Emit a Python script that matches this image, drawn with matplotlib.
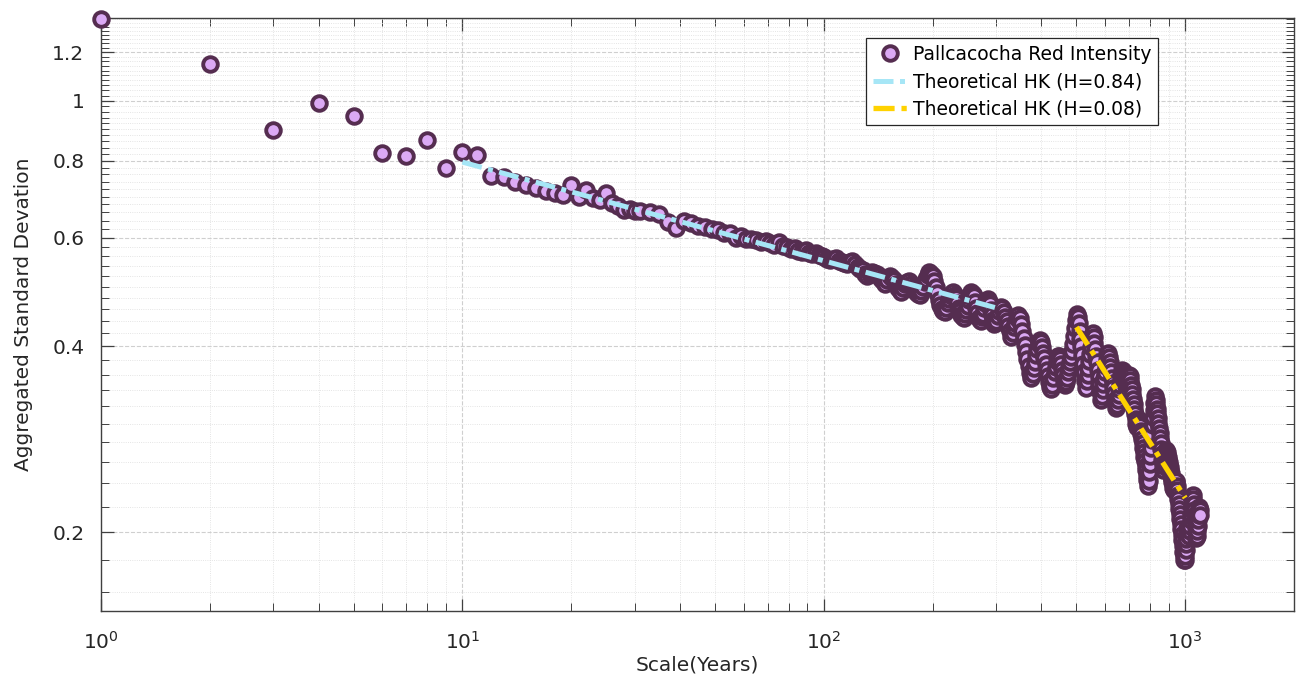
import numpy as np
import matplotlib.pyplot as plt
from matplotlib.ticker import FixedLocator, NullFormatter, LogLocator

plt.rcParams['font.family'] = ['DejaVu Sans']
plt.rcParams['mathtext.default'] = 'regular'

# aggregated standard deviation of the Pallcacocha red intensity record
# scales 1..30 years, one by one
scale_a = list(range(1, 31))
sd_a = [1.36, 1.148, 0.898, 0.991, 0.944, 0.823, 0.813, 0.864, 0.780, 0.826,
        0.817, 0.755, 0.754, 0.738, 0.730, 0.722, 0.714, 0.708, 0.703, 0.730,
        0.700, 0.716, 0.697, 0.690, 0.708, 0.684, 0.676, 0.666, 0.668, 0.664]

# scales 31..99, every 2 years
scale_b = list(range(31, 100, 2))
sd_b = [0.663, 0.660, 0.655, 0.637, 0.622, 0.640, 0.633, 0.627, 0.625, 0.620,
        0.618, 0.612, 0.610, 0.600, 0.604, 0.598, 0.597, 0.596, 0.590, 0.593,
        0.588, 0.585, 0.590, 0.582, 0.579, 0.575, 0.578, 0.572, 0.570, 0.573,
        0.568, 0.565, 0.568, 0.562, 0.560]

# scales 100..298, every 2 years
scale_c = list(range(100, 300, 2))
sd_c = [0.558, 0.554, 0.552, 0.555, 0.556, 0.551, 0.548, 0.546, 0.545, 0.548,
        0.550, 0.544, 0.538, 0.535, 0.532, 0.525, 0.520, 0.524, 0.528, 0.527,
        0.525, 0.520, 0.515, 0.510, 0.505, 0.512, 0.520, 0.516, 0.512, 0.505,
        0.498, 0.494, 0.490, 0.497, 0.505, 0.508, 0.510, 0.505, 0.500, 0.495,
        0.490, 0.487, 0.485, 0.492, 0.500, 0.508, 0.515, 0.522, 0.528, 0.525,
        0.520, 0.510, 0.500, 0.488, 0.475, 0.467, 0.460, 0.457, 0.455, 0.462,
        0.470, 0.478, 0.485, 0.488, 0.490, 0.485, 0.480, 0.471, 0.462, 0.456,
        0.450, 0.447, 0.445, 0.451, 0.458, 0.466, 0.475, 0.483, 0.490, 0.486,
        0.482, 0.472, 0.462, 0.453, 0.445, 0.442, 0.440, 0.446, 0.452, 0.461,
        0.470, 0.474, 0.478, 0.473, 0.468, 0.459, 0.450, 0.442, 0.435, 0.437]

# scales 300..1098 every 3 years, plus the last scale 1100
scale_d = list(range(300, 1099, 3)) + [1100]
sd_d = [0.440, 0.448, 0.456, 0.463, 0.462, 0.455, 0.447, 0.440, 0.432, 0.423,
        0.415, 0.421, 0.430, 0.437, 0.444, 0.450, 0.444, 0.435, 0.424, 0.413,
        0.402, 0.392, 0.382, 0.372, 0.362, 0.355, 0.361, 0.369, 0.378, 0.387,
        0.396, 0.404, 0.410, 0.406, 0.399, 0.391, 0.383, 0.375, 0.366, 0.358,
        0.350, 0.344, 0.341, 0.347, 0.355, 0.363, 0.371, 0.379, 0.386, 0.386,
        0.381, 0.374, 0.367, 0.359, 0.352, 0.346, 0.350, 0.356, 0.363, 0.370,
        0.377, 0.385, 0.393, 0.404, 0.416, 0.429, 0.442, 0.452, 0.447, 0.436,
        0.424, 0.412, 0.400, 0.388, 0.375, 0.363, 0.351, 0.343, 0.351, 0.360,
        0.369, 0.379, 0.389, 0.399, 0.409, 0.420, 0.414, 0.405, 0.396, 0.386,
        0.377, 0.367, 0.357, 0.347, 0.337, 0.328, 0.333, 0.340, 0.348, 0.356,
        0.364, 0.372, 0.380, 0.389, 0.390, 0.384, 0.377, 0.370, 0.363, 0.356,
        0.349, 0.342, 0.335, 0.328, 0.322, 0.318, 0.322, 0.328, 0.334, 0.341,
        0.347, 0.354, 0.360, 0.366, 0.365, 0.361, 0.357, 0.353, 0.349, 0.345,
        0.342, 0.348, 0.354, 0.360, 0.358, 0.353, 0.347, 0.341, 0.335, 0.329,
        0.323, 0.317, 0.311, 0.305, 0.300, 0.296, 0.298, 0.301, 0.304, 0.301,
        0.297, 0.292, 0.288, 0.283, 0.279, 0.274, 0.270, 0.265, 0.261, 0.256,
        0.252, 0.247, 0.243, 0.238, 0.242, 0.250, 0.258, 0.266, 0.274, 0.282,
        0.290, 0.298, 0.307, 0.315, 0.324, 0.333, 0.328, 0.323, 0.317, 0.312,
        0.306, 0.301, 0.295, 0.290, 0.284, 0.279, 0.273, 0.268, 0.262, 0.257,
        0.252, 0.256, 0.260, 0.264, 0.268, 0.272, 0.270, 0.267, 0.265, 0.262,
        0.260, 0.257, 0.255, 0.252, 0.249, 0.247, 0.244, 0.241, 0.239, 0.236,
        0.234, 0.236, 0.237, 0.239, 0.241, 0.242, 0.238, 0.234, 0.230, 0.226,
        0.222, 0.218, 0.214, 0.210, 0.206, 0.202, 0.198, 0.194, 0.190, 0.186,
        0.183, 0.180, 0.180, 0.183, 0.187, 0.191, 0.195, 0.199, 0.203, 0.202,
        0.200, 0.198, 0.197, 0.201, 0.205, 0.209, 0.213, 0.217, 0.221, 0.226,
        0.230, 0.226, 0.222, 0.217, 0.213, 0.209, 0.204, 0.200, 0.196, 0.197,
        0.201, 0.205, 0.209, 0.213, 0.216, 0.220, 0.217,
        0.213]

scale = np.array(scale_a + scale_b + scale_c + scale_d, dtype=float)
agg_sd = np.array(sd_a + sd_b + sd_c + sd_d)

# theoretical Hurst-Kolmogorov lines: sd ~ scale^(H-1)
hk1_H, hk1_x, hk1_y0 = 0.84, [10, 300], 0.796
hk2_H, hk2_x, hk2_y0 = 0.08, [500, 1000], 0.430
hk1_y = [hk1_y0 * (x / hk1_x[0]) ** (hk1_H - 1) for x in hk1_x]
hk2_y = [hk2_y0 * (x / hk2_x[0]) ** (hk2_H - 1) for x in hk2_x]

face = '#DBA9F4'
edge = '#552D50'

fig = plt.figure(figsize=(13.06, 6.84), dpi=100)
ax = fig.add_axes([101 / 1306, 1 - 611 / 684, 1193 / 1306, 593 / 684])

ax.plot(scale, agg_sd, 'o', ms=10.5, mfc=face, mec=edge, mew=2.8,
        label='Pallcacocha Red Intensity', zorder=3, clip_on=False)
ax.plot(hk1_x, hk1_y, color='#A6E6F6', lw=3.6, dashes=(4, 1.3, 1, 1.3),
        label='Theoretical HK (H=0.84)', zorder=4)
ax.plot(hk2_x, hk2_y, color='#FFD200', lw=3.8, dashes=(4, 1.3, 1, 1.3),
        label='Theoretical HK (H=0.08)', zorder=4)

ax.set_xscale('log')
ax.set_yscale('log')
ax.set_xlim(1, 2000)
ax.set_ylim(0.149, 1.363)

ax.xaxis.set_major_locator(LogLocator(base=10, numticks=10))
ax.xaxis.set_minor_locator(LogLocator(base=10, subs=np.arange(2, 10), numticks=20))
ax.xaxis.set_minor_formatter(NullFormatter())

yt = [0.2, 0.4, 0.6, 0.8, 1.0, 1.2]
ax.yaxis.set_major_locator(FixedLocator(yt))
ax.set_yticklabels(['0.2', '0.4', '0.6', '0.8', '1', '1.2'])
ax.yaxis.set_minor_locator(FixedLocator(np.arange(0.16, 1.37, 0.02)))
ax.yaxis.set_minor_formatter(NullFormatter())

ax.grid(True, which='major', color='#cfcfcf', lw=0.8, ls='--')
ax.grid(True, which='minor', color='#dcdcdc', lw=0.6, ls=':')
ax.set_axisbelow(True)

ax.tick_params(which='both', direction='in', top=True, right=True,
               colors='#404040', labelcolor='#262626', labelsize=14.5)
ax.tick_params(which='major', length=9, width=0.9, pad=12)
ax.tick_params(which='minor', length=6, width=0.7)
ax.tick_params(axis='x', which='major', pad=14)
for s in ax.spines.values():
    s.set_color('#404040')
    s.set_linewidth(1.0)

ax.set_xlabel('Scale(Years)', fontsize=14.5, color='#262626', labelpad=2)
ax.set_ylabel('Aggregated Standard Devation', fontsize=14.5, color='#262626', labelpad=14)

leg = ax.legend(loc='upper right', bbox_to_anchor=(0.886, 0.966), fontsize=13.5,
                fancybox=False, framealpha=1, edgecolor='#262626',
                handlelength=1.9, handletextpad=0.25, borderpad=0.35,
                labelspacing=0.45, borderaxespad=0)
leg.get_frame().set_linewidth(0.9)

fig.savefig('out.png', dpi=100)
